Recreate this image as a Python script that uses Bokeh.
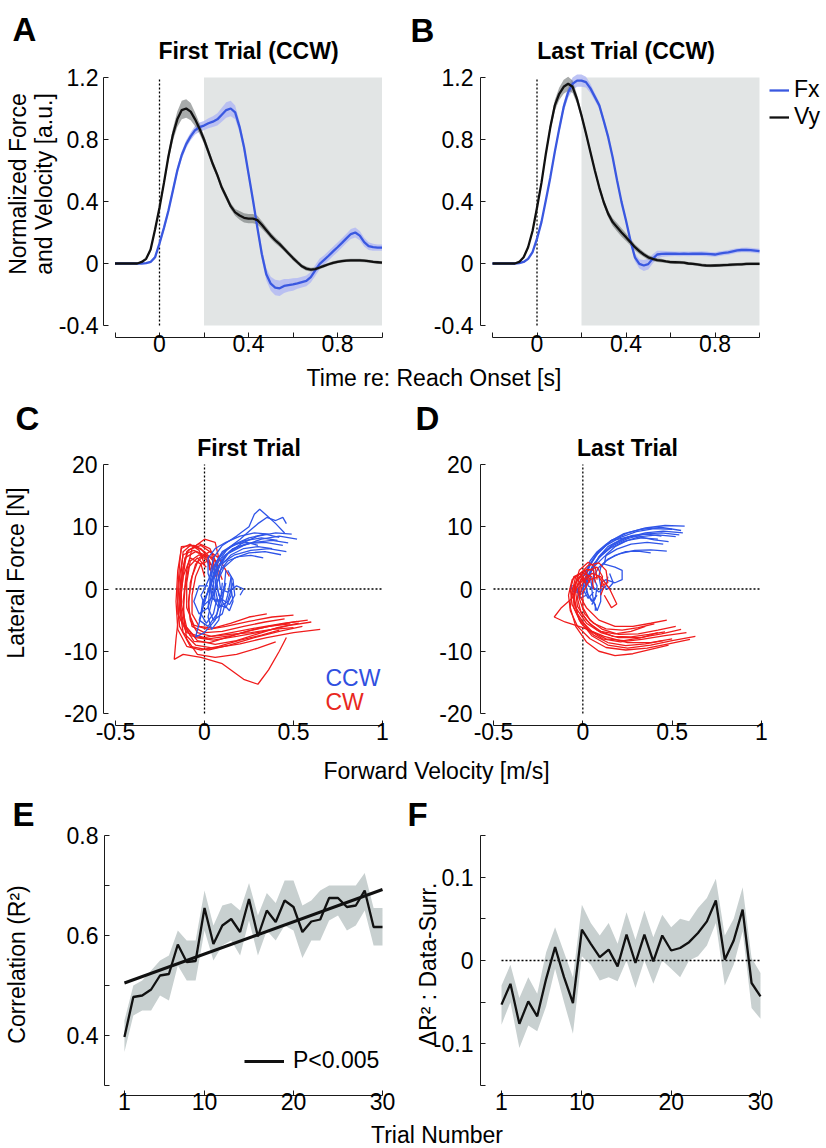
from bokeh.plotting import figure
from bokeh.models import (Range1d, FixedTicker, CustomJSTickFormatter, Label,
                          Legend, LegendItem)
from bokeh.layouts import column, row
from bokeh.embed import file_html
from bokeh.resources import INLINE

FONT = "Liberation Sans"
FX_COL = "#3a58e0"
FX_BAND = "#b3baf3"
VY_BAND = "#6e7373"
SHADE = "#e2e5e5"
RED = "#f01c1c"
BLUE = "#2f55e8"
EBAND = "#c8d0d0"

# ---------------- data: panels A / B (time courses) ----------------
t_grid = [-0.2, -0.16, -0.12,
          -0.1, -0.08, -0.06, -0.04, -0.02, 0.0, 0.02, 0.04, 0.06, 0.08,
          0.1, 0.12, 0.14, 0.16, 0.18, 0.2, 0.22, 0.24, 0.26, 0.28,
          0.3, 0.32, 0.34, 0.36, 0.38, 0.4, 0.42, 0.44, 0.46, 0.48,
          0.5, 0.52, 0.54, 0.56, 0.58, 0.6, 0.62, 0.64, 0.66, 0.68,
          0.7, 0.72, 0.74, 0.76, 0.78, 0.8, 0.82, 0.84, 0.86, 0.88,
          0.9, 0.92, 0.94, 0.96, 0.98, 1.0]

a_vy = [0, 0, 0,
        0.0, 0.01, 0.03, 0.09, 0.22, 0.36, 0.52, 0.69, 0.83, 0.93,
        0.99, 1.00, 0.98, 0.93, 0.87, 0.80, 0.72, 0.64, 0.57, 0.49,
        0.43, 0.37, 0.33, 0.31, 0.295, 0.29, 0.29, 0.28, 0.25, 0.215,
        0.18, 0.15, 0.125, 0.095, 0.065, 0.035, 0.008, -0.018, -0.033, -0.04,
        -0.036, -0.026, -0.015, -0.005, 0.004, 0.011, 0.016, 0.019, 0.02, 0.02,
        0.02, 0.018, 0.015, 0.011, 0.008, 0.005]
a_vy_sem = [0.003, 0.003, 0.003,
            0.004, 0.005, 0.008, 0.012, 0.015, 0.018, 0.022, 0.03, 0.04, 0.05,
            0.06, 0.06, 0.055, 0.045, 0.035, 0.028, 0.025, 0.022, 0.02, 0.02,
            0.02, 0.02, 0.022, 0.028, 0.03, 0.03, 0.03, 0.028, 0.025, 0.022,
            0.02, 0.02, 0.018, 0.016, 0.015, 0.015, 0.014, 0.013, 0.013, 0.012,
            0.012, 0.011, 0.01, 0.01, 0.01, 0.01, 0.01, 0.01, 0.01, 0.01,
            0.01, 0.01, 0.01, 0.01, 0.01, 0.01]
a_fx = [0, 0, 0,
        0.0, 0.0, 0.003, 0.01, 0.04, 0.13, 0.23, 0.34, 0.47, 0.60,
        0.70, 0.77, 0.82, 0.86, 0.88, 0.89, 0.905, 0.915, 0.93, 0.96,
        0.99, 1.00, 0.975, 0.88, 0.75, 0.58, 0.41, 0.23, 0.06, -0.07,
        -0.13, -0.155, -0.16, -0.145, -0.14, -0.135, -0.128, -0.12, -0.112, -0.088,
        -0.045, -0.002, 0.024, 0.05, 0.078, 0.105, 0.133, 0.162, 0.19, 0.20,
        0.18, 0.138, 0.112, 0.105, 0.103, 0.103]
a_fx_sem = [0.003, 0.003, 0.003,
            0.003, 0.004, 0.005, 0.008, 0.012, 0.018, 0.02, 0.022, 0.025, 0.025,
            0.025, 0.025, 0.025, 0.028, 0.03, 0.03, 0.032, 0.035, 0.04, 0.045,
            0.05, 0.05, 0.045, 0.035, 0.03, 0.03, 0.03, 0.03, 0.035, 0.04,
            0.045, 0.05, 0.05, 0.045, 0.04, 0.04, 0.035, 0.035, 0.035, 0.035,
            0.035, 0.035, 0.03, 0.03, 0.03, 0.03, 0.03, 0.03, 0.032, 0.032,
            0.03, 0.028, 0.025, 0.022, 0.02, 0.02]

b_vy = [0, 0, 0,
        0.0, 0.01, 0.04, 0.105, 0.21, 0.36, 0.52, 0.71, 0.88, 1.02,
        1.095, 1.14, 1.16, 1.14, 1.06, 0.955, 0.84, 0.72, 0.60, 0.49,
        0.395, 0.32, 0.267, 0.234, 0.20, 0.17, 0.138, 0.105, 0.08, 0.058,
        0.04, 0.03, 0.022, 0.018, 0.013, 0.009, 0.008, 0.007, 0.005, 0.0,
        -0.002, -0.006, -0.01, -0.013, -0.014, -0.013, -0.012, -0.01, -0.009, -0.007,
        -0.006, -0.005, -0.003, -0.002, -0.002, -0.002]
b_vy_sem = [0.003, 0.003, 0.003,
            0.004, 0.005, 0.008, 0.01, 0.012, 0.015, 0.018, 0.022, 0.028, 0.035,
            0.04, 0.045, 0.045, 0.04, 0.03, 0.025, 0.02, 0.02, 0.02, 0.02,
            0.02, 0.022, 0.025, 0.028, 0.028, 0.025, 0.022, 0.02, 0.018, 0.016,
            0.015, 0.014, 0.012, 0.012, 0.01, 0.01, 0.01, 0.01, 0.01, 0.01,
            0.01, 0.01, 0.01, 0.01, 0.01, 0.01, 0.01, 0.01, 0.01, 0.01,
            0.01, 0.01, 0.01, 0.01, 0.01, 0.01]
b_fx = [0, 0, 0,
        0.0, 0.003, 0.01, 0.03, 0.073, 0.16, 0.267, 0.41, 0.557, 0.72,
        0.87, 1.01, 1.105, 1.16, 1.18, 1.18, 1.17, 1.13, 1.075, 1.02,
        0.92, 0.815, 0.686, 0.535, 0.396, 0.277, 0.148, 0.04, -0.002, -0.013,
        -0.004, 0.03, 0.058, 0.062, 0.063, 0.063, 0.063, 0.062, 0.063, 0.062,
        0.063, 0.063, 0.064, 0.062, 0.06, 0.058, 0.064, 0.068, 0.072, 0.078,
        0.084, 0.087, 0.088, 0.086, 0.083, 0.08]
b_fx_sem = [0.003, 0.003, 0.003,
            0.003, 0.004, 0.005, 0.008, 0.01, 0.012, 0.015, 0.018, 0.02, 0.022,
            0.025, 0.03, 0.035, 0.04, 0.04, 0.04, 0.035, 0.03, 0.025, 0.022,
            0.02, 0.02, 0.02, 0.02, 0.02, 0.02, 0.022, 0.025, 0.03, 0.035,
            0.035, 0.03, 0.025, 0.02, 0.018, 0.016, 0.015, 0.015, 0.015, 0.015,
            0.015, 0.015, 0.015, 0.015, 0.015, 0.015, 0.015, 0.015, 0.015, 0.015,
            0.015, 0.015, 0.015, 0.015, 0.015, 0.015]

time_lim = [-0.2, 1.0]
force_lim = [-0.4, 1.2]
analysis_window = [0.2, 1.0]

# ---------------- data: panels C / D (force vs velocity traces) ----------------
vel_lim = [-0.5, 1.0]
lat_lim = [-20, 20]

c_cw = [
    [(0.52, -5.2), (0.40, -5.8), (0.28, -6.5), (0.15, -7.5), (0.02, -8.0), (-0.08, -7.5), (-0.13, -5), (-0.14, -1), (-0.13, 3), (-0.12, 6), (-0.08, 7), (-0.02, 6.5), (0.02, 5), (0.03, 3)],
    [(0.58, -5.0), (0.45, -5.5), (0.30, -6.2), (0.15, -7.0), (0.0, -7.8), (-0.10, -7.0), (-0.15, -4), (-0.15, 0), (-0.14, 4), (-0.13, 6.8), (-0.06, 7), (0.0, 6), (0.05, 4.5), (0.06, 2)],
    [(0.65, -6.5), (0.50, -7.0), (0.35, -7.8), (0.20, -8.8), (0.05, -9.5), (-0.05, -9.0), (-0.12, -7), (-0.14, -3), (-0.12, 2), (-0.10, 6), (-0.03, 7.3), (0.03, 6.5), (0.07, 4), (0.08, 1.5)],
    [(0.46, -7.8), (0.42, -10), (0.36, -13), (0.30, -15.3), (0.22, -14.5), (0.10, -12), (-0.02, -11), (-0.12, -10.5), (-0.17, -11.3), (-0.16, -8), (-0.14, -3), (-0.12, 2), (-0.08, 5), (-0.02, 4), (0.0, 2)],
    [(0.50, -4.2), (0.38, -4.5), (0.25, -5.2), (0.12, -6.0), (0.02, -6.5), (-0.06, -5.8), (-0.10, -3), (-0.10, 1), (-0.08, 4.5), (-0.03, 5.5), (0.02, 4.5), (0.04, 2.5)],
    [(0.55, -6.0), (0.42, -6.8), (0.28, -7.8), (0.14, -9.0), (0.02, -9.8), (-0.08, -9.2), (-0.14, -6), (-0.15, -2), (-0.14, 2), (-0.12, 5.5), (-0.06, 6.2), (0.0, 5.5), (0.03, 3.5)],
    [(0.48, -5.6), (0.36, -6.0), (0.24, -6.8), (0.12, -7.8), (0.03, -8.6), (-0.06, -8.4), (-0.11, -6), (-0.12, -2), (-0.10, 3), (-0.07, 6.5), (0.0, 8.0), (0.06, 7.5), (0.08, 5), (0.06, 2)],
    [(0.40, -8.5), (0.30, -9.5), (0.18, -10.5), (0.06, -11.0), (-0.04, -10.5), (-0.10, -8), (-0.12, -4), (-0.11, 0), (-0.09, 3.5), (-0.04, 5), (0.01, 3.5)],
    [(0.45, -4.8), (0.34, -5.3), (0.22, -6.0), (0.10, -6.8), (0.00, -7.0), (-0.07, -6), (-0.09, -3), (-0.08, 1), (-0.05, 4), (0.0, 5.5), (0.05, 5), (0.08, 3), (0.10, 1.5)],
    [(0.53, -5.5), (0.41, -6.2), (0.30, -7.2), (0.18, -8.3), (0.06, -8.9), (-0.04, -8.3), (-0.10, -6.2), (-0.13, -2.5), (-0.13, 1.5), (-0.11, 5.0), (-0.05, 6.0), (0.02, 5.0), (0.05, 3.0)],
    [(0.60, -5.3), (0.47, -5.9), (0.32, -6.9), (0.18, -7.6), (0.05, -8.2), (-0.05, -7.8), (-0.12, -5.5), (-0.14, -1.5), (-0.12, 3.5), (-0.09, 6.3), (-0.02, 7.0), (0.04, 5.8), (0.05, 3.5)],
    [(0.35, -4.0), (0.25, -4.5), (0.15, -5.5), (0.05, -6.3), (-0.03, -6.0), (-0.07, -4), (-0.07, -1), (-0.05, 2), (-0.02, 4), (0.02, 4.5), (0.05, 3.5)],
    [(0.42, -6.6), (0.32, -7.4), (0.20, -8.2), (0.08, -9.2), (-0.02, -9.8), (-0.10, -9.2), (-0.15, -6.5), (-0.16, -2), (-0.15, 3), (-0.13, 6.5), (-0.08, 7.2), (-0.03, 6.2), (0.0, 4)],
    [(0.50, -6.2), (0.38, -6.5), (0.26, -7.0), (0.14, -7.3), (0.04, -7.6), (-0.04, -7.0), (-0.08, -5), (-0.09, -2), (-0.07, 2), (-0.03, 5), (0.03, 6.0), (0.08, 5.0), (0.12, 3), (0.14, 2)],
]
c_ccw = [
    [(0.52, 8.0), (0.42, 8.5), (0.32, 8.0), (0.22, 7.0), (0.12, 5.5), (0.06, 3), (0.03, 0), (0.02, -3), (0.05, -5), (0.10, -4), (0.13, -1), (0.15, 2)],
    [(0.46, 6.0), (0.36, 6.5), (0.26, 6.2), (0.17, 5.5), (0.09, 4), (0.04, 1.5), (0.0, -2), (-0.03, -5.5), (-0.05, -7.7), (0.0, -7), (0.06, -5), (0.09, -2), (0.10, 1)],
    [(0.45, 9.0), (0.40, 10.5), (0.35, 11.8), (0.31, 12.8), (0.28, 12.0), (0.25, 10.0), (0.18, 8.5), (0.10, 7.0), (0.05, 5), (0.03, 2), (0.04, -1), (0.08, -3), (0.13, -2), (0.16, 1)],
    [(0.44, 7.0), (0.34, 7.5), (0.24, 7.3), (0.16, 6.5), (0.10, 5.0), (0.07, 2.5), (0.06, 0), (0.08, -2.5), (0.12, -3), (0.15, -1), (0.15, 2)],
    [(0.49, 8.8), (0.40, 9.0), (0.30, 8.5), (0.22, 7.5), (0.14, 6.0), (0.08, 3.5), (0.03, 0.5), (-0.01, -3), (-0.03, -5), (0.02, -6), (0.07, -4), (0.09, -1)],
    [(0.46, 10.5), (0.44, 11.5), (0.40, 11.0), (0.35, 11.5), (0.30, 10.5), (0.26, 9.5), (0.20, 8.0), (0.13, 6.5), (0.07, 4), (0.05, 1), (0.06, -2), (0.10, -1.5), (0.12, 1)],
    [(0.38, 6.5), (0.30, 6.8), (0.22, 6.5), (0.15, 5.5), (0.10, 4), (0.08, 2), (0.09, 0), (0.13, -0.5), (0.18, 0.5), (0.22, 0), (0.20, -1)],
    [(0.43, 5.5), (0.34, 6.0), (0.25, 5.8), (0.17, 5.0), (0.11, 3.5), (0.07, 1), (0.04, -2), (0.02, -4.5), (0.04, -6.5), (0.08, -5), (0.10, -2), (0.11, 0.5)],
    [(0.41, 7.8), (0.32, 8.2), (0.23, 7.8), (0.15, 6.8), (0.09, 5.5), (0.05, 3.5), (0.03, 1), (0.04, -1.5), (0.08, -2), (0.11, 0), (0.12, 3)],
    [(0.36, 8.8), (0.28, 9.0), (0.20, 8.5), (0.12, 7.5), (0.06, 6.5), (0.02, 5), (0.02, 2.5), (0.05, 0), (0.02, -3), (-0.03, -4), (-0.06, -2), (-0.03, 0.5), (0.02, 0.5)],
    [(0.47, 7.4), (0.38, 7.8), (0.28, 7.5), (0.19, 6.8), (0.12, 5.5), (0.08, 3.5), (0.06, 1), (0.09, -1.5), (0.14, -2.5), (0.17, -1), (0.16, 1.5), (0.13, 3)],
    [(0.33, 5.0), (0.26, 5.4), (0.19, 5.2), (0.13, 4.5), (0.09, 3), (0.07, 1), (0.08, -1), (0.11, -2.5), (0.14, -3.5), (0.16, -2), (0.15, 0)],
    [(0.30, 7.0), (0.24, 7.5), (0.17, 7.2), (0.11, 6), (0.07, 4.5), (0.05, 2.5), (0.03, 0), (-0.01, -2), (-0.02, -4), (0.01, -5.5), (0.05, -4), (0.07, -1.5)],
    [(0.42, 8.3), (0.34, 8.8), (0.25, 8.2), (0.17, 7.2), (0.10, 6), (0.06, 4), (0.03, 2), (0.0, 0), (-0.02, -1), (0.0, -2.5), (0.04, -1.5), (0.06, 0)],
]
d_cw = [
    [(0.63, -7.6), (0.50, -8.3), (0.38, -9.0), (0.25, -9.5), (0.14, -9.0), (0.05, -7.5), (-0.02, -5), (-0.05, -2), (-0.04, 1), (0.0, 2.5), (0.05, 2), (0.06, 0)],
    [(0.47, -5.0), (0.38, -5.5), (0.28, -6.0), (0.18, -6.0), (0.09, -5.0), (0.02, -3), (-0.02, -1), (-0.01, 1.5), (0.03, 3), (0.08, 3.5), (0.11, 2), (0.10, 0)],
    [(0.55, -6.5), (0.44, -7.2), (0.32, -7.8), (0.20, -7.8), (0.10, -7.0), (0.02, -5.5), (-0.04, -3), (-0.06, -0.5), (-0.04, 2), (0.01, 3), (0.04, 1.5)],
    [(0.50, -8.0), (0.38, -8.6), (0.25, -8.6), (0.12, -7.6), (0.0, -6.2), (-0.10, -5.3), (-0.16, -4.5), (-0.12, -3), (-0.06, -1.5), (-0.03, 0.5), (0.0, 2), (0.02, 0.5)],
    [(0.58, -7.0), (0.46, -7.5), (0.33, -8.1), (0.21, -8.5), (0.11, -8.0), (0.03, -6.5), (-0.03, -4), (-0.05, -1), (-0.03, 2), (0.03, 3.8), (0.09, 4.2), (0.13, 3), (0.14, 1), (0.10, 0.5)],
    [(0.42, -7.0), (0.33, -7.8), (0.23, -8.3), (0.13, -8.0), (0.05, -6.8), (-0.02, -4.8), (-0.06, -2.5), (-0.07, 0), (-0.05, 2), (-0.01, 2.5), (0.01, 1)],
    [(0.48, -9.0), (0.38, -9.7), (0.28, -10.4), (0.18, -10.7), (0.09, -10.0), (0.02, -8.5), (-0.04, -6), (-0.07, -3), (-0.06, 0), (-0.02, 2), (0.02, 1)],
    [(0.52, -6.0), (0.42, -6.6), (0.31, -7.2), (0.20, -7.3), (0.11, -6.5), (0.04, -5), (0.0, -3), (0.0, -0.5), (0.04, 1.5), (0.09, 2), (0.12, 0.5), (0.10, -1)],
    [(0.45, -8.3), (0.35, -8.8), (0.24, -9.1), (0.14, -8.6), (0.06, -7.4), (-0.01, -5.5), (-0.05, -3), (-0.05, 0), (-0.02, 3), (0.03, 4.3), (0.07, 3.5), (0.08, 1.5)],
    [(0.40, -5.6), (0.31, -6.2), (0.22, -6.6), (0.13, -6.4), (0.06, -5.5), (0.01, -4), (-0.02, -1.5), (0.0, 1), (0.05, 2.5), (0.10, 2), (0.15, 0), (0.19, -2.4), (0.16, -3), (0.12, -1)],
    [(0.60, -8.1), (0.48, -8.8), (0.36, -9.5), (0.24, -9.8), (0.13, -9.4), (0.04, -8), (-0.03, -6), (-0.07, -3.5), (-0.08, -1), (-0.06, 1.5), (-0.02, 2.5), (0.01, 1.5)],
    [(0.35, -6.0), (0.27, -6.8), (0.18, -7.2), (0.10, -6.8), (0.04, -5.6), (-0.01, -3.8), (-0.03, -1.5), (-0.02, 0.8), (0.02, 2), (0.04, 1)],
    [(0.46, -6.9), (0.37, -7.3), (0.27, -7.7), (0.17, -7.6), (0.08, -6.6), (0.02, -5), (-0.03, -2.8), (-0.04, -0.5), (-0.02, 1.8), (0.02, 3.2), (0.06, 3), (0.07, 1)],
]
d_ccw = [
    [(0.57, 10.1), (0.46, 10.2), (0.35, 9.8), (0.25, 9.0), (0.16, 7.8), (0.09, 6.0), (0.04, 3.8), (0.01, 1.5), (0.0, 0), (0.03, -1.5), (0.06, -0.5)],
    [(0.56, 9.0), (0.45, 9.3), (0.35, 9.0), (0.25, 8.3), (0.17, 7.2), (0.10, 5.5), (0.05, 3.5), (0.02, 1.5), (0.02, -0.5), (0.05, -2), (0.08, -1)],
    [(0.47, 6.1), (0.38, 6.3), (0.29, 6.2), (0.21, 5.7), (0.14, 4.8), (0.09, 3.5), (0.06, 2), (0.05, 0), (0.06, -2), (0.08, -3.5), (0.10, -2), (0.10, 0.5)],
    [(0.52, 8.4), (0.42, 8.7), (0.32, 8.4), (0.23, 7.6), (0.15, 6.5), (0.09, 5), (0.05, 3.2), (0.02, 1), (-0.01, -0.5), (-0.05, -0.5), (-0.07, 0.5), (-0.04, 0.5)],
    [(0.50, 9.6), (0.40, 9.7), (0.30, 9.2), (0.21, 8.3), (0.13, 7), (0.07, 5.3), (0.03, 3.3), (0.01, 1.2), (0.03, -1), (0.07, -2.5), (0.07, -3.5)],
    [(0.42, 8.0), (0.33, 8.2), (0.25, 7.8), (0.18, 6.8), (0.13, 5.5), (0.12, 4), (0.18, 3.5), (0.22, 3), (0.22, 1.5), (0.18, 1), (0.13, 1.5), (0.10, 1)],
    [(0.54, 8.7), (0.44, 9.0), (0.34, 8.8), (0.25, 8.1), (0.17, 7), (0.11, 5.6), (0.06, 4), (0.04, 2.2), (0.05, 0.5), (0.09, -0.5), (0.13, 0.5), (0.14, 2)],
    [(0.45, 7.2), (0.36, 7.5), (0.27, 7.2), (0.19, 6.4), (0.12, 5.2), (0.07, 3.8), (0.03, 2.2), (0.0, 0.8), (-0.03, 0), (-0.02, -1.5), (0.02, -1)],
    [(0.48, 7.6), (0.40, 7.9), (0.33, 8.3), (0.27, 8.5), (0.20, 8.0), (0.16, 7.8), (0.13, 7.2), (0.08, 6), (0.04, 4.5), (0.02, 2.5), (0.03, 0.5), (0.06, 0)],
    [(0.38, 5.8), (0.31, 6.1), (0.24, 6.0), (0.18, 5.4), (0.13, 4.5), (0.10, 3.5), (0.09, 2), (0.10, 0.5), (0.14, 0), (0.17, 1), (0.15, 2.5)],
    [(0.55, 9.4), (0.44, 9.9), (0.33, 9.6), (0.23, 8.9), (0.15, 7.6), (0.08, 5.8), (0.04, 4), (0.01, 2.5), (-0.02, 1), (-0.04, 0), (-0.02, -1), (0.01, -0.5)],
    [(0.44, 8.5), (0.36, 8.8), (0.28, 8.6), (0.21, 7.9), (0.14, 6.8), (0.09, 5.2), (0.06, 3.5), (0.06, 1.8), (0.08, 0.5), (0.07, -1.5), (0.05, -2.5)],
]

# ---------------- data: panels E / F ----------------
trials = list(range(1, 31))
e_mean = [0.397, 0.477, 0.48, 0.492, 0.52, 0.523, 0.582, 0.547, 0.549, 0.655,
          0.583, 0.62, 0.633, 0.607, 0.673, 0.598, 0.65, 0.627, 0.67, 0.657,
          0.607, 0.628, 0.632, 0.675, 0.675, 0.657, 0.66, 0.69, 0.617, 0.617]
e_upper = [0.43, 0.50, 0.51, 0.53, 0.55, 0.56, 0.61, 0.59, 0.59, 0.69,
           0.62, 0.66, 0.665, 0.65, 0.705, 0.64, 0.685, 0.665, 0.71, 0.71,
           0.66, 0.67, 0.69, 0.70, 0.70, 0.70, 0.70, 0.725, 0.655, 0.655]
e_lower = [0.367, 0.44, 0.45, 0.45, 0.48, 0.47, 0.54, 0.51, 0.51, 0.61,
           0.55, 0.58, 0.59, 0.56, 0.63, 0.56, 0.61, 0.59, 0.62, 0.61,
           0.555, 0.59, 0.59, 0.63, 0.64, 0.61, 0.62, 0.65, 0.58, 0.58]
fit_trials = [1, 30]
fit_r2 = [0.505, 0.692]

f_mean = [-0.053, -0.028, -0.076, -0.049, -0.067, -0.022, 0.016, -0.02, -0.051, 0.037,
          0.02, 0.004, 0.013, -0.007, 0.031, -0.003, 0.031, -0.001, 0.03, 0.012,
          0.015, 0.022, 0.033, 0.047, 0.072, 0.001, 0.024, 0.061, -0.027, -0.043]
f_upper = [-0.03, -0.005, -0.045, -0.02, -0.04, 0.01, 0.04, 0.01, -0.02, 0.067,
           0.045, 0.03, 0.045, 0.02, 0.058, 0.025, 0.06, 0.028, 0.055, 0.04,
           0.05, 0.047, 0.063, 0.075, 0.098, 0.03, 0.05, 0.088, 0.003, -0.015]
f_lower = [-0.077, -0.05, -0.105, -0.078, -0.085, -0.055, -0.01, -0.05, -0.088, 0.005,
           -0.005, -0.024, -0.02, -0.025, 0.0, -0.033, 0.0, -0.028, 0.0, -0.01,
           -0.02, 0.0, 0.005, 0.018, 0.045, -0.03, -0.005, 0.035, -0.057, -0.07]


# ---------------- helpers ----------------
def mapper(p0, p1, va, pa, vb, pb):
    k = (vb - va) / (pb - pa)
    f = lambda px: va + (px - pa) * k
    return Range1d(f(p0), f(p1)), f


def base_fig(width, height, xr, yr, mbl, mbr, mbt, mbb):
    p = figure(width=width, height=height, x_range=xr, y_range=yr,
               min_border_left=mbl, min_border_right=mbr,
               min_border_top=mbt, min_border_bottom=mbb,
               output_backend="svg", toolbar_location=None, tools="")
    p.outline_line_color = None
    p.xgrid.visible = False
    p.ygrid.visible = False
    p.background_fill_color = "white"
    p.border_fill_color = "white"
    return p


def style_axes(p, xt, xminor, yt, yminor, xb, yb, ystand=6):
    p.xaxis.ticker = FixedTicker(ticks=xt, minor_ticks=xminor)
    p.yaxis.ticker = FixedTicker(ticks=yt, minor_ticks=yminor)
    p.xaxis.bounds = tuple(xb)
    p.yaxis.bounds = tuple(yb)
    for ax in list(p.xaxis) + list(p.yaxis):
        ax.formatter = CustomJSTickFormatter(code="return String(tick);")
        ax.axis_line_color = "#1a1a1a"
        ax.axis_line_width = 1
        ax.major_tick_in = 5
        ax.major_tick_out = 0
        ax.minor_tick_in = 5
        ax.minor_tick_out = 0
        ax.major_tick_line_color = "#1a1a1a"
        ax.minor_tick_line_color = "#1a1a1a"
        ax.major_label_text_font = FONT
        ax.major_label_text_font_size = "23px"
        ax.major_label_text_color = "black"
        ax.axis_label_text_font = FONT
        ax.axis_label_text_font_size = "23px"
        ax.axis_label_text_font_style = "normal"
        ax.axis_label_text_color = "black"
    p.xaxis.major_label_standoff = -3
    p.yaxis.major_label_standoff = ystand


def letter(p, text, offset, standoff):
    p.title.text = text
    p.title.align = "left"
    p.title.offset = offset
    p.title.standoff = standoff
    p.title.vertical_align = "bottom"
    p.title.text_font = FONT
    p.title.text_font_size = "33px"
    p.title.text_font_style = "bold"
    p.title.text_color = "black"


def heading(p, text, x, y):
    p.add_layout(Label(x=x, y=y, text=text, text_align="center", text_baseline="middle",
                       text_font=FONT, text_font_size="23px", text_font_style="bold",
                       text_color="black"))


def strip(height, text, x, y):
    s = figure(width=826, height=height, x_range=Range1d(0, 826), y_range=Range1d(0, height),
               min_border=0, x_axis_type=None, y_axis_type=None,
               output_backend="svg", toolbar_location=None, tools="")
    s.outline_line_color = None
    s.background_fill_color = "white"
    s.border_fill_color = "white"
    s.add_layout(Label(x=x, y=y, text=text, text_align="center",
                       text_baseline="middle", text_font=FONT,
                       text_font_size="23px", text_color="black"))
    return s


def band(mean, sem, sign):
    return [m + sign * s for m, s in zip(mean, sem)]


def split(traces):
    xs = [[pt[0] for pt in tr] for tr in traces]
    ys = [[pt[1] for pt in tr] for tr in traces]
    return xs, ys


def time_panel(p, fx, fx_sem, vy, vy_sem):
    p.quad(left=[analysis_window[0]], right=[analysis_window[1]],
           bottom=[force_lim[0]], top=[force_lim[1]],
           fill_color=SHADE, line_color=None)
    p.line([0, 0], force_lim, line_color="black", line_width=1.3, line_dash="2 2")
    p.varea(x=t_grid, y1=band(fx, fx_sem, -1), y2=band(fx, fx_sem, 1),
            fill_color=FX_BAND, fill_alpha=0.85)
    p.varea(x=t_grid, y1=band(vy, vy_sem, -1), y2=band(vy, vy_sem, 1),
            fill_color=VY_BAND, fill_alpha=0.6)
    rf = p.line(t_grid, fx, line_color=FX_COL, line_width=2.3)
    rv = p.line(t_grid, vy, line_color="#111111", line_width=2.3)
    return rf, rv


def traj_panel(p, cw, ccw, red_first):
    p.line([0, 0], lat_lim, line_color="black", line_width=1.3, line_dash="2 2")
    p.line(vel_lim, [0, 0], line_color="black", line_width=1.3, line_dash="2 2")
    order = [(cw, RED), (ccw, BLUE)] if red_first else [(ccw, BLUE), (cw, RED)]
    for traces, col in order:
        xs, ys = split(traces)
        p.multi_line(xs=xs, ys=ys, line_color=col, line_width=1.3)
    style_axes(p, [-0.5, 0, 0.5, 1], [], [-20, -10, 0, 10, 20], [], vel_lim, lat_lim)


# ---------------- row 1: panels A / B ----------------
R1_TOP, R1_FT, R1_FB, R1_BOT = 0, 30, 337, 365
xrA, mxA = mapper(103, 383, -0.2, 114.5, 1.0, 381.5)
yrA, myA = mapper(R1_FB, R1_FT, -0.4, 325, 1.2, 77)
pA = base_fig(408, R1_BOT - R1_TOP, xrA, yrA, 103, 25, R1_FT - R1_TOP, R1_BOT - R1_FB)
time_panel(pA, a_fx, a_fx_sem, a_vy, a_vy_sem)
style_axes(pA, [0, 0.4, 0.8], [-0.2, 0.2, 0.6, 1.0], [-0.4, 0, 0.4, 0.8, 1.2], [],
           time_lim, force_lim, ystand=5)
pA.yaxis.axis_label = "Normalized Force\nand Velocity [a.u.]"
pA.yaxis.axis_label_standoff = -1
pA.yaxis.axis_label_text_line_height = 1.0
letter(pA, "A", 12 - 103, -35)
heading(pA, "First Trial (CCW)", mxA(248), myA(50.5))

xrB, mxB = mapper(480, 824, -0.2, 492, 1.0, 759)
yrB, myB = mapper(R1_FB, R1_FT, -0.4, 325, 1.2, 77)
pB = base_fig(418, R1_BOT - R1_TOP, xrB, yrB, 72, 2, R1_FT - R1_TOP, R1_BOT - R1_FB)
rfB, rvB = time_panel(pB, b_fx, b_fx_sem, b_vy, b_vy_sem)
style_axes(pB, [0, 0.4, 0.8], [-0.2, 0.2, 0.6, 1.0], [-0.4, 0, 0.4, 0.8, 1.2], [],
           time_lim, force_lim, ystand=7)
letter(pB, "B", 410 - 480, -37)
heading(pB, "Last Trial (CCW)", mxB(625.5), myB(50.5))
legB = Legend(items=[LegendItem(label="Fx", renderers=[rfB]),
                     LegendItem(label="Vy", renderers=[rvB])],
              location=(289, R1_FB - 130), padding=0, margin=0, spacing=-18,
              glyph_width=20, glyph_height=20, label_standoff=5,
              label_text_font=FONT, label_text_font_size="23px",
              label_text_color="black",
              border_line_color=None, background_fill_alpha=0)
pB.add_layout(legB)

F1_BOT = 392
foot1 = strip(F1_BOT - R1_BOT, "Time re: Reach Onset [s]", 433.5, F1_BOT - 377.6)

# ---------------- row 2: panels C / D ----------------
R2_TOP, R2_FT, R2_FB, R2_BOT = F1_BOT, 420, 725, 753
xrC, mxC = mapper(103, 383, -0.5, 115, 1.0, 382)
yrC, myC = mapper(R2_FB, R2_FT, -20, 713, 20, 464)
pC = base_fig(408, R2_BOT - R2_TOP, xrC, yrC, 103, 25, R2_FT - R2_TOP, R2_BOT - R2_FB)
traj_panel(pC, c_cw, c_ccw, True)
pC.yaxis.axis_label = "Lateral Force [N]"
pC.yaxis.axis_label_standoff = 32
letter(pC, "C", 15 - 103, -33)
heading(pC, "First Trial", mxC(248.5), myC(447.5))
pC.add_layout(Label(x=mxC(325), y=myC(677.5), text="CCW", text_font=FONT,
                    text_font_size="23px", text_color="#3050e0", text_baseline="middle"))
pC.add_layout(Label(x=mxC(325), y=myC(701.5), text="CW", text_font=FONT,
                    text_font_size="23px", text_color="#e8281e", text_baseline="middle"))

xrD, mxD = mapper(480, 762, -0.5, 493, 1.0, 761)
yrD, myD = mapper(R2_FB, R2_FT, -20, 713, 20, 464)
pD = base_fig(418, R2_BOT - R2_TOP, xrD, yrD, 72, 64, R2_FT - R2_TOP, R2_BOT - R2_FB)
traj_panel(pD, d_cw, d_ccw, False)
pD.yaxis.major_label_standoff = 8
letter(pD, "D", 415 - 480, -33)
heading(pD, "Last Trial", mxD(627), myD(447.5))

F2_BOT = 785
foot2 = strip(F2_BOT - R2_BOT, "Forward Velocity [m/s]", 436, F2_BOT - 770)

# ---------------- row 3: panels E / F ----------------
R3_TOP, R3_FT, R3_FB, R3_BOT = F2_BOT, 833, 1095, 1123
xrE, _ = mapper(103, 383, 1, 123, 30, 382)
yrE, _ = mapper(R3_FB, R3_FT, 0.3, 1085, 0.8, 835)
pE = base_fig(408, R3_BOT - R3_TOP, xrE, yrE, 103, 25, R3_FT - R3_TOP, R3_BOT - R3_FB)
pE.varea(x=trials, y1=e_lower, y2=e_upper, fill_color=EBAND)
pE.line(trials, e_mean, line_color="#111111", line_width=2.3)
rfit = pE.line(fit_trials, fit_r2, line_color="#111111", line_width=3)
style_axes(pE, [1, 10, 20, 30], [], [0.4, 0.6, 0.8], [0.3, 0.5, 0.7],
           [trials[0], trials[-1]], [0.3, 0.8])
pE.yaxis.axis_label = "Correlation (R²)"
pE.yaxis.axis_label_standoff = 34
letter(pE, "E", 11 - 103, 1)
legE = Legend(items=[LegendItem(label="P<0.005", renderers=[rfit])],
              location=(140, 21), padding=0, margin=0,
              glyph_width=40, glyph_height=20, label_standoff=9,
              label_text_font=FONT, label_text_font_size="23px",
              label_text_color="black",
              border_line_color=None, background_fill_alpha=0)
pE.add_layout(legE)

xrF, _ = mapper(480, 762, 1, 501, 30, 760)
yrF, _ = mapper(R3_FB, R3_FT, -0.15, 1085, 0.15, 835)
pF = base_fig(418, R3_BOT - R3_TOP, xrF, yrF, 72, 64, R3_FT - R3_TOP, R3_BOT - R3_FB)
pF.varea(x=trials, y1=f_lower, y2=f_upper, fill_color=EBAND)
pF.line([trials[0], trials[-1]], [0, 0], line_color="black", line_width=1.3, line_dash="2 2")
pF.line(trials, f_mean, line_color="#111111", line_width=2.3)
style_axes(pF, [1, 10, 20, 30], [], [-0.1, 0, 0.1], [-0.15, -0.05, 0.05, 0.15],
           [trials[0], trials[-1]], [-0.15, 0.15], ystand=7)
pF.yaxis.axis_label = "ΔR² : Data-Surr."
pF.yaxis.axis_label_standoff = -10
letter(pF, "F", 407 - 480, 1)

foot3 = strip(1148 - R3_BOT, "Trial Number", 436.5, 1148 - 1134.75)

layout = column(row(pA, pB), foot1,
                row(pC, pD), foot2,
                row(pE, pF), foot3)

open("out.html", "w").write(file_html(layout, INLINE))
